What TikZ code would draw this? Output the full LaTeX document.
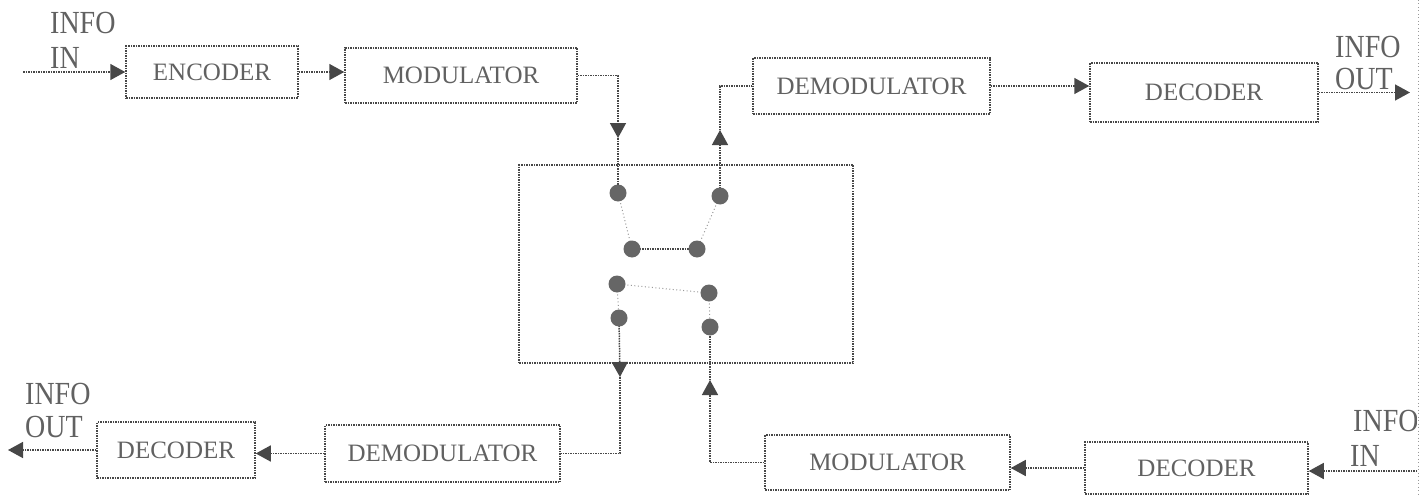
\documentclass[tikz,border=0pt]{standalone}
\usepackage{fontspec}
\setmainfont{Liberation Serif}
\usetikzlibrary{arrows.meta}
\newcommand{\tallt}[1]{\scalebox{1}[1.15]{#1}}
\begin{document}
\begin{tikzpicture}[x=1pt,y=-1pt,
  ln/.style={draw=black!72, line width=1.5pt, dash pattern=on 1.5pt off 1pt},
  arr/.style={ln, -{Triangle[length=15pt,width=16pt]}},
  box/.style={ln, rectangle, inner sep=0pt, font=\fontsize{25}{25}\selectfont, text=black!62},
  lbl/.style={font=\fontsize{28}{28}\selectfont, text=black!62, inner sep=0pt, anchor=base west},
  dot/.style={circle, fill=black!60, minimum size=17pt, inner sep=0pt},
  thinl/.style={draw=black!40, line width=1pt, dash pattern=on 1pt off 2.5pt}
]
\useasboundingbox (0,0) rectangle (1421,495);
\clip (0,0) rectangle (1421,495);

% scan border
\draw[thinl] (1418,0) -- (1418,495);

% boxes
\node[box, minimum width=172pt, minimum height=52pt] (enc) at (212,72) {ENCODER};
\node[box, minimum width=232pt, minimum height=55pt] (mod1) at (461,75.5) {MODULATOR};
\node[box, minimum width=237pt, minimum height=56pt] (demod1) at (871.5,86) {DEMODULATOR};
\node[box, minimum width=228pt, minimum height=59pt] (dec1) at (1204,92.5) {DECODER};
\node[box, minimum width=158pt, minimum height=56pt] (dec2) at (176,450) {DECODER};
\node[box, minimum width=235pt, minimum height=57pt] (demod2) at (442.5,453.5) {DEMODULATOR};
\node[box, minimum width=245pt, minimum height=55pt] (mod2) at (887.5,462.5) {MODULATOR};
\node[box, minimum width=223pt, minimum height=52pt] (dec3) at (1196.5,468) {DECODER};

% switch box
\node[ln, rectangle, minimum width=334pt, minimum height=198pt, inner sep=0pt] (sw) at (686,264) {};

% labels
\node[lbl] (infoTL) at (50,34) {\tallt{INFO}};
\node[lbl] (inTL) at (50,69) {\tallt{IN}};
\node[lbl] (infoTR) at (1335,58) {\tallt{INFO}};
\node[lbl] (outTR) at (1335,89) {\tallt{OUT}};
\node[lbl] (infoBL) at (25,404) {\tallt{INFO}};
\node[lbl] (outBL) at (25,437) {\tallt{OUT}};
\begin{scope}
\clip (1300,380) rectangle (1416,440);
\node[lbl] (infoBR) at (1353,431) {\tallt{INFO}};
\end{scope}
\node[lbl] (inBR) at (1350,466) {\tallt{IN}};

% coordinates
\coordinate (inTL) at (23,72);
\coordinate (outTR) at (1410,92.5);
\coordinate (outL) at (8,450);
\coordinate (inR) at (1417,471);
\coordinate (a1) at (618,138);
\coordinate (a2) at (720,130);
\coordinate (a3) at (620,377);
\coordinate (a4) at (710,380);

% dots positions
\coordinate (dTL) at (618,193);
\coordinate (dTR) at (720,196);
\coordinate (dML) at (632,249);
\coordinate (dMR) at (697,249);
\coordinate (dLL) at (617,284);
\coordinate (dLR) at (709,293);
\coordinate (dBL) at (619,318);
\coordinate (dBR) at (710,327);

% horizontal connectors
\draw[arr] (inTL) -- (enc.west);
\draw[arr] (enc.east) -- (enc.east -| mod1.west);
\draw[arr] (demod1.east) -- (demod1.east -| dec1.west);
\draw[arr] (dec1.east) -- (outTR);
\draw[arr] (dec2.west) -- (outL);
\draw[arr] (demod2.west) -- (demod2.west -| dec2.east);
\draw[arr] (dec3.west) -- (dec3.west -| mod2.east);
\draw[arr] (inR) -- (inR -| dec3.east);

% vertical connectors
\draw[arr] (mod1.east) -| (a1);
\draw[ln] (a1) -- (dTL);
\draw[arr] (dTR) -- (a2);
\draw[ln] (a2) |- (demod1.west);
\draw[arr] (dBL) -- (a3);
\draw[ln] (a3) |- (demod2.east);
\draw[arr] (mod2.west) -| (a4);
\draw[ln] (a4) -- (dBR);

% switch links
\draw[thinl] (dTL) -- (dML);
\draw[thinl] (dTR) -- (dMR);
\draw[ln] (dML) -- (dMR);
\draw[thinl] (dLL) -- (dLR);
\draw[thinl] (dLL) -- (dBL);
\draw[thinl] (dLR) -- (dBR);

% dots
\foreach \d in {dTL,dTR,dML,dMR,dLL,dLR,dBL,dBR}
  \node[dot] (n\d) at (\d) {};
\end{tikzpicture}
\end{document}
